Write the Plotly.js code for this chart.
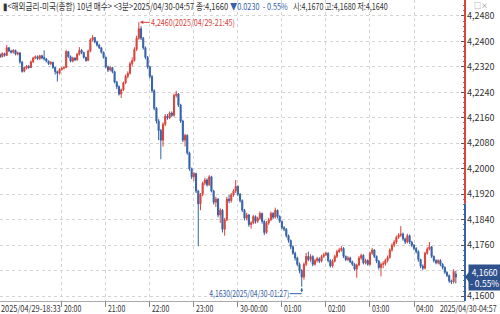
<!DOCTYPE html>
<html><head><meta charset="utf-8">
<script src="https://cdn.plot.ly/plotly-3.0.1.min.js"></script>
<style>html,body{margin:0;padding:0;background:#fff}#chart{width:500px;height:314px}</style>
</head><body><div id="chart"></div>
<script>
// 3-minute candles, 2025/04/29 18:33 -> 2025/04/30 04:57
const startDay = 29, startMinute = 18 * 60 + 33, stepMinutes = 3;

const openV = [
4.2350,4.2358,4.2352,4.2362,4.2356,4.2380,4.2370,4.2366,4.2372,4.2360,
4.2364,4.2335,4.2306,4.2316,4.2322,4.2318,4.2336,4.2348,4.2352,4.2346,
4.2355,4.2350,4.2345,4.2338,4.2330,4.2334,4.2318,4.2305,4.2300,4.2312,
4.2316,4.2318,4.2368,4.2352,4.2338,4.2348,4.2342,4.2360,4.2372,4.2365,
4.2350,4.2340,4.2370,4.2405,4.2412,4.2398,4.2388,4.2380,4.2366,4.2350,
4.2320,4.2310,4.2318,4.2305,4.2272,4.2258,4.2235,4.2248,4.2270,4.2290,
4.2300,4.2330,4.2340,4.2375,4.2410,4.2440,4.2410,4.2380,4.2350,4.2320,
4.2290,4.2245,4.2190,4.2150,4.2120,4.2090,4.2140,4.2165,4.2160,4.2175,
4.2168,4.2230,4.2235,4.2200,4.2150,4.2090,4.2105,4.2050,4.2000,4.1975,
4.1985,4.1930,4.1890,4.1920,4.1955,4.1965,4.1950,4.1975,4.1930,4.1895,
4.1905,4.1855,4.1870,4.1810,4.1840,4.1905,4.1900,4.1918,4.1930,4.1945,
4.1920,4.1900,4.1870,4.1845,4.1855,4.1825,4.1830,4.1850,4.1835,4.1845,
4.1860,4.1835,4.1800,4.1830,4.1840,4.1860,4.1848,4.1870,4.1850,4.1835,
4.1815,4.1810,4.1790,4.1775,4.1755,4.1735,4.1720,4.1700,4.1680,4.1660,
4.1700,4.1725,4.1715,4.1725,4.1700,4.1712,4.1718,4.1710,4.1725,4.1730,
4.1735,4.1712,4.1695,4.1710,4.1725,4.1740,4.1745,4.1750,4.1725,4.1715,
4.1720,4.1708,4.1700,4.1685,4.1698,4.1720,4.1728,4.1705,4.1712,4.1700,
4.1735,4.1745,4.1725,4.1710,4.1690,4.1700,4.1702,4.1712,4.1722,4.1745,
4.1760,4.1770,4.1785,4.1792,4.1795,4.1780,4.1770,4.1790,4.1770,4.1760,
4.1750,4.1740,4.1715,4.1695,4.1688,4.1735,4.1748,4.1755,4.1725,4.1712,
4.1705,4.1712,4.1700,4.1690,4.1675,4.1665,4.1648,4.1645,4.1670];

const highV = [
4.2362,4.2362,4.2366,4.2364,4.2389,4.2382,4.2374,4.2376,4.2374,4.2368,
4.2366,4.2338,4.2320,4.2326,4.2326,4.2340,4.2352,4.2356,4.2356,4.2358,
4.2358,4.2372,4.2348,4.2340,4.2338,4.2336,4.2320,4.2308,4.2316,4.2320,
4.2322,4.2374,4.2370,4.2356,4.2352,4.2350,4.2364,4.2382,4.2376,4.2368,
4.2352,4.2374,4.2410,4.2420,4.2414,4.2402,4.2392,4.2382,4.2368,4.2352,
4.2324,4.2322,4.2320,4.2308,4.2276,4.2262,4.2252,4.2274,4.2296,4.2306,
4.2336,4.2350,4.2382,4.2418,4.2460,4.2448,4.2414,4.2384,4.2354,4.2324,
4.2294,4.2250,4.2194,4.2156,4.2125,4.2146,4.2172,4.2172,4.2180,4.2180,
4.2236,4.2245,4.2238,4.2204,4.2154,4.2110,4.2108,4.2054,4.2004,4.1990,
4.1988,4.1934,4.1924,4.1960,4.1972,4.1970,4.1980,4.1978,4.1934,4.1912,
4.1908,4.1876,4.1874,4.1846,4.1912,4.1918,4.1924,4.1936,4.1965,4.1948,
4.1924,4.1904,4.1874,4.1862,4.1858,4.1836,4.1856,4.1854,4.1850,4.1866,
4.1862,4.1838,4.1836,4.1846,4.1866,4.1864,4.1878,4.1872,4.1854,4.1838,
4.1820,4.1814,4.1794,4.1778,4.1760,4.1740,4.1724,4.1706,4.1685,4.1706,
4.1736,4.1740,4.1732,4.1728,4.1718,4.1724,4.1722,4.1730,4.1736,4.1740,
4.1738,4.1716,4.1716,4.1730,4.1746,4.1752,4.1758,4.1754,4.1728,4.1726,
4.1724,4.1712,4.1704,4.1702,4.1726,4.1734,4.1732,4.1718,4.1716,4.1740,
4.1752,4.1748,4.1728,4.1714,4.1706,4.1710,4.1718,4.1728,4.1750,4.1766,
4.1776,4.1790,4.1798,4.1820,4.1800,4.1784,4.1796,4.1794,4.1774,4.1764,
4.1754,4.1744,4.1718,4.1700,4.1740,4.1754,4.1770,4.1758,4.1728,4.1716,
4.1716,4.1716,4.1704,4.1694,4.1678,4.1668,4.1652,4.1685,4.1680];

const lowV = [
4.2346,4.2348,4.2350,4.2352,4.2354,4.2366,4.2362,4.2362,4.2356,4.2356,
4.2330,4.2302,4.2303,4.2312,4.2314,4.2316,4.2332,4.2344,4.2342,4.2342,
4.2344,4.2340,4.2334,4.2326,4.2326,4.2314,4.2296,4.2274,4.2296,4.2308,
4.2312,4.2316,4.2348,4.2334,4.2334,4.2338,4.2340,4.2356,4.2360,4.2346,
4.2336,4.2338,4.2366,4.2400,4.2394,4.2384,4.2376,4.2362,4.2346,4.2316,
4.2304,4.2306,4.2300,4.2268,4.2250,4.2230,4.2222,4.2244,4.2266,4.2284,
4.2296,4.2322,4.2336,4.2370,4.2405,4.2404,4.2374,4.2344,4.2314,4.2284,
4.2240,4.2184,4.2142,4.2090,4.2030,4.2070,4.2134,4.2154,4.2156,4.2162,
4.2164,4.2224,4.2194,4.2144,4.2084,4.2070,4.2044,4.1994,4.1968,4.1962,
4.1924,4.1757,4.1870,4.1914,4.1948,4.1944,4.1946,4.1926,4.1888,4.1880,
4.1848,4.1830,4.1800,4.1790,4.1836,4.1892,4.1894,4.1912,4.1924,4.1914,
4.1894,4.1864,4.1838,4.1838,4.1818,4.1812,4.1826,4.1828,4.1830,4.1840,
4.1828,4.1792,4.1796,4.1824,4.1836,4.1842,4.1844,4.1844,4.1830,4.1810,
4.1804,4.1784,4.1768,4.1748,4.1730,4.1712,4.1694,4.1672,4.1630,4.1652,
4.1694,4.1710,4.1708,4.1694,4.1696,4.1706,4.1704,4.1706,4.1720,4.1726,
4.1706,4.1690,4.1690,4.1706,4.1720,4.1736,4.1740,4.1720,4.1710,4.1710,
4.1704,4.1695,4.1680,4.1658,4.1694,4.1714,4.1700,4.1700,4.1696,4.1696,
4.1730,4.1720,4.1704,4.1684,4.1662,4.1688,4.1696,4.1706,4.1718,4.1740,
4.1754,4.1764,4.1780,4.1786,4.1774,4.1764,4.1766,4.1764,4.1754,4.1744,
4.1734,4.1708,4.1688,4.1682,4.1684,4.1730,4.1744,4.1720,4.1706,4.1700,
4.1700,4.1694,4.1684,4.1670,4.1660,4.1642,4.1638,4.1640,4.1640];

const closeV = [
4.2358,4.2352,4.2362,4.2356,4.2380,4.2370,4.2366,4.2372,4.2360,4.2364,
4.2335,4.2306,4.2318,4.2322,4.2318,4.2336,4.2348,4.2352,4.2346,4.2355,
4.2348,4.2345,4.2338,4.2330,4.2334,4.2318,4.2305,4.2300,4.2312,4.2316,
4.2318,4.2368,4.2352,4.2338,4.2348,4.2342,4.2360,4.2372,4.2365,4.2350,
4.2340,4.2370,4.2405,4.2412,4.2398,4.2388,4.2380,4.2366,4.2350,4.2320,
4.2310,4.2318,4.2305,4.2272,4.2258,4.2235,4.2248,4.2270,4.2290,4.2300,
4.2330,4.2340,4.2375,4.2410,4.2440,4.2410,4.2380,4.2350,4.2320,4.2290,
4.2245,4.2190,4.2150,4.2120,4.2090,4.2140,4.2165,4.2160,4.2175,4.2168,
4.2230,4.2235,4.2200,4.2150,4.2090,4.2105,4.2050,4.2000,4.1975,4.1985,
4.1930,4.1890,4.1920,4.1955,4.1965,4.1950,4.1975,4.1930,4.1895,4.1905,
4.1855,4.1870,4.1810,4.1840,4.1905,4.1900,4.1918,4.1930,4.1945,4.1920,
4.1900,4.1870,4.1845,4.1855,4.1825,4.1830,4.1850,4.1835,4.1845,4.1860,
4.1835,4.1800,4.1830,4.1840,4.1860,4.1848,4.1870,4.1850,4.1835,4.1815,
4.1810,4.1790,4.1775,4.1755,4.1735,4.1720,4.1700,4.1680,4.1660,4.1700,
4.1725,4.1715,4.1725,4.1700,4.1712,4.1718,4.1710,4.1725,4.1730,4.1735,
4.1712,4.1695,4.1710,4.1725,4.1740,4.1745,4.1750,4.1725,4.1715,4.1720,
4.1708,4.1700,4.1685,4.1698,4.1720,4.1728,4.1705,4.1712,4.1700,4.1735,
4.1745,4.1725,4.1710,4.1690,4.1700,4.1702,4.1712,4.1722,4.1745,4.1760,
4.1770,4.1785,4.1792,4.1795,4.1780,4.1770,4.1790,4.1770,4.1760,4.1750,
4.1740,4.1715,4.1695,4.1688,4.1735,4.1748,4.1755,4.1725,4.1712,4.1705,
4.1712,4.1700,4.1690,4.1675,4.1665,4.1648,4.1645,4.1678,4.1660];

const prevClose = 4.1890;
const yTicks = [4.1600,4.1680,4.1760,4.1840,4.1920,4.2000,4.2080,4.2160,4.2240,4.2320,4.2400,4.2480];
const yTicksHiddenByTag = [4.1680];
const xTickTimes = ['2025-04-29 20:00','2025-04-29 21:00','2025-04-29 22:00','2025-04-29 23:00','2025-04-30 00:00','2025-04-30 01:00','2025-04-30 02:00','2025-04-30 03:00','2025-04-30 04:00'];
const xTickLabels = ['20:00','21:00','22:00','23:00','30-00:00','01:00','02:00','03:00','04:00'];
const firstLabel = '2025/04/29-18:33';
const lastLabel = '2025/04/30-04:57';
const headerParts = ['▮&lt;해외금리-미국(종합) 10년 매수&gt; &lt;3분&gt;2025/04/30-04:57 종:4,1660', '▼0.0230  - 0.55%', '시:4,1670 고:4,1680 저:4,1640'];
const tagText = ['4,1660', '- 0.55%'];

const RED = '#d9443b', BLUE = '#3562a8', TAG = '#2f518e';
const FONT = '"Noto Sans CJK KR", "Noto Sans", sans-serif';

function pad(n){ return String(n).padStart(2,'0'); }
const times = closeV.map((_, i) => {
  let m = startMinute + stepMinutes * i, d = startDay;
  if (m >= 1440) { m -= 1440; d += 1; }
  return `2025-04-${pad(d)} ${pad(Math.floor(m/60))}:${pad(m%60)}`;
});
function label(t){ return t.slice(0,10).replace(/-/g,'/') + '-' + t.slice(11,16); }
function num(v){ return v.toFixed(4).replace('.', ','); }

let iHi = 0, iLo = 0;
highV.forEach((v,i)=>{ if (v > highV[iHi]) iHi = i; });
lowV.forEach((v,i)=>{ if (v < lowV[iLo]) iLo = i; });
const last = closeV.length - 1;

const trace = {
  type: 'candlestick', x: times, open: openV, high: highV, low: lowV, close: closeV,
  increasing: {line: {color: RED, width: 1}, fillcolor: RED},
  decreasing: {line: {color: BLUE, width: 1}, fillcolor: BLUE},
  whiskerwidth: 0, hoverinfo: 'skip', showlegend: false
};

// fit: horizontal width (px) each annotation text is narrowed to, like the narrow bitmap font of the original
const fit = {};
const annotations = [];
function addAnn(a, w){ if (w) fit[annotations.length] = {w, right: a.align === 'right'}; annotations.push(a); }

const headerLayout = [[2, 226, '#333'], [229, 58, BLUE], [292, 95, '#333']];
headerParts.forEach((txt, k) => addAnn({xref:'paper', yref:'paper', x:0, y:1, xanchor:'left', yanchor:'top', align:'left',
   xshift:headerLayout[k][0], yshift:2, showarrow:false, borderpad:0, text:txt,
   font:{family:FONT, size:9.5, color:headerLayout[k][2]}}, headerLayout[k][1]));
addAnn({xref:'paper', yref:'paper', x:1, y:1, xanchor:'left', yanchor:'top', xshift:8, yshift:1, showarrow:false, borderpad:0,
   text:'□×', font:{family:FONT, size:7, color:'#777'}});
addAnn({xref:'paper', yref:'paper', x:0, y:0, xanchor:'left', yanchor:'top', align:'left', yshift:0, showarrow:false, borderpad:0,
   text:firstLabel, font:{family:FONT, size:8.5, color:'#333'}}, 60);
addAnn({xref:'paper', yref:'paper', x:1, y:0, xanchor:'right', yanchor:'top', align:'right', xshift:33, yshift:0, showarrow:false, borderpad:0,
   text:lastLabel, font:{family:FONT, size:8.5, color:'#333'}}, 57);
addAnn({x: times[iHi], y: highV[iHi], xref:'x', yref:'y', showarrow:true, ax:11, ay:0, xanchor:'left', align:'left',
   arrowcolor:RED, arrowwidth:1, arrowhead:2, arrowsize:0.7, standoff:1, borderpad:0,
   text: num(highV[iHi]) + '(' + label(times[iHi]) + ')', font:{family:FONT, size:9, color:RED}}, 84);
addAnn({x: times[iLo], y: lowV[iLo], xref:'x', yref:'y', showarrow:true, ax:0, ay:7,
   arrowcolor:BLUE, arrowwidth:1, arrowhead:2, arrowsize:0.6, standoff:1, text:'', font:{size:1}});
addAnn({x: times[iLo], y: lowV[iLo], xref:'x', yref:'y', showarrow:false, xanchor:'right', yanchor:'middle', align:'right', borderpad:0,
   xshift:-12, yshift:-7, text: num(lowV[iLo]) + '(' + label(times[iLo]) + ')', font:{family:FONT, size:9, color:BLUE}}, 80);
addAnn({x:1, xref:'paper', y: closeV[last], yref:'y', xanchor:'left', yanchor:'middle', xshift:3, showarrow:false,
   text: tagText.join('<br>'), bgcolor:TAG, borderpad:1,
   font:{family:FONT, size:8.5, color:'#fff'}});
xTickTimes.forEach((t,k)=>addAnn({x:t, xref:'x', yref:'paper', y:0, xanchor:'left', yanchor:'top', align:'left',
  xshift:1, yshift:0, borderpad:0, showarrow:false, text:xTickLabels[k], font:{family:FONT, size:8.5, color:'#333'}},
  xTickLabels[k].length * 3.5));

const yr = [4.1585, 4.2530];
const shapes = [
  {type:'line', xref:'paper', yref:'y', x0:1, x1:1, y0:prevClose, y1:yr[1], line:{color:RED, width:2}},
  {type:'line', xref:'paper', yref:'y', x0:1, x1:1, y0:yr[0], y1:prevClose, line:{color:BLUE, width:2}},
  {type:'line', xref:'x', yref:'y', xsizemode:'pixel', ysizemode:'pixel', xanchor:times[iLo], yanchor:lowV[iLo],
   x0:-12, x1:0, y0:-7, y1:-7, line:{color:BLUE, width:1}},
  {type:'path', xref:'paper', yref:'y', xsizemode:'pixel', ysizemode:'pixel', xanchor:1, yanchor:closeV[last],
   path:'M0,0 L4,5 L4,-5 Z', fillcolor:TAG, line:{width:0}}
];

const layout = {
  width:500, height:314, margin:{l:0, r:35, t:0, b:13},
  paper_bgcolor:'#fff', plot_bgcolor:'#fff', showlegend:false,
  xaxis:{type:'date', range:['2025-04-29 18:35:50','2025-04-30 05:09:30'], rangeslider:{visible:false},
    tickvals:xTickTimes, showticklabels:false, ticks:'outside', ticklen:5, tickcolor:'#888',
    showgrid:true, gridcolor:'#d4d4d4', griddash:'dot', gridwidth:1,
    showline:true, linecolor:'#aaa', linewidth:1, zeroline:false, fixedrange:true},
  yaxis:{side:'right', range:yr, tickvals:yTicks,
    ticktext:yTicks.map(v => yTicksHiddenByTag.includes(v) ? '' : num(v)),
    ticks:'inside', ticklen:4, tickcolor:'#555', ticklabelstandoff:1,
    minor:{dtick:0.0016, ticks:'inside', ticklen:2, tickcolor:'#777', showgrid:false},
    showgrid:true, gridcolor:'#d4d4d4', griddash:'dot', gridwidth:1,
    showline:false, zeroline:false, tickfont:{family:FONT, size:9, color:'#333'}, fixedrange:true},
  annotations, shapes, font:{family:FONT}
};

Plotly.newPlot('chart', [trace], layout, {displayModeBar:false, staticPlot:true}).then(() => {
  Object.keys(fit).forEach(idx => {
    const g = document.querySelector(`#chart g.annotation[data-index="${idx}"]`);
    if (!g) return;
    const t = g.querySelector('text.annotation-text');
    if (!t) return;
    const b = t.getBBox();
    if (!b.width) return;
    const sx = fit[idx].w / b.width;
    const ax = fit[idx].right ? b.x + b.width : b.x;
    t.setAttribute('transform', `translate(${ax},0) scale(${sx},1) translate(${-ax},0)`);
    const bg = g.querySelector('rect.bg');
    if (bg && t.parentNode === bg.parentNode) {
      bg.setAttribute('x', fit[idx].right ? ax - fit[idx].w : ax);
      bg.setAttribute('width', fit[idx].w);
    }
  });
});
</script></body></html>
